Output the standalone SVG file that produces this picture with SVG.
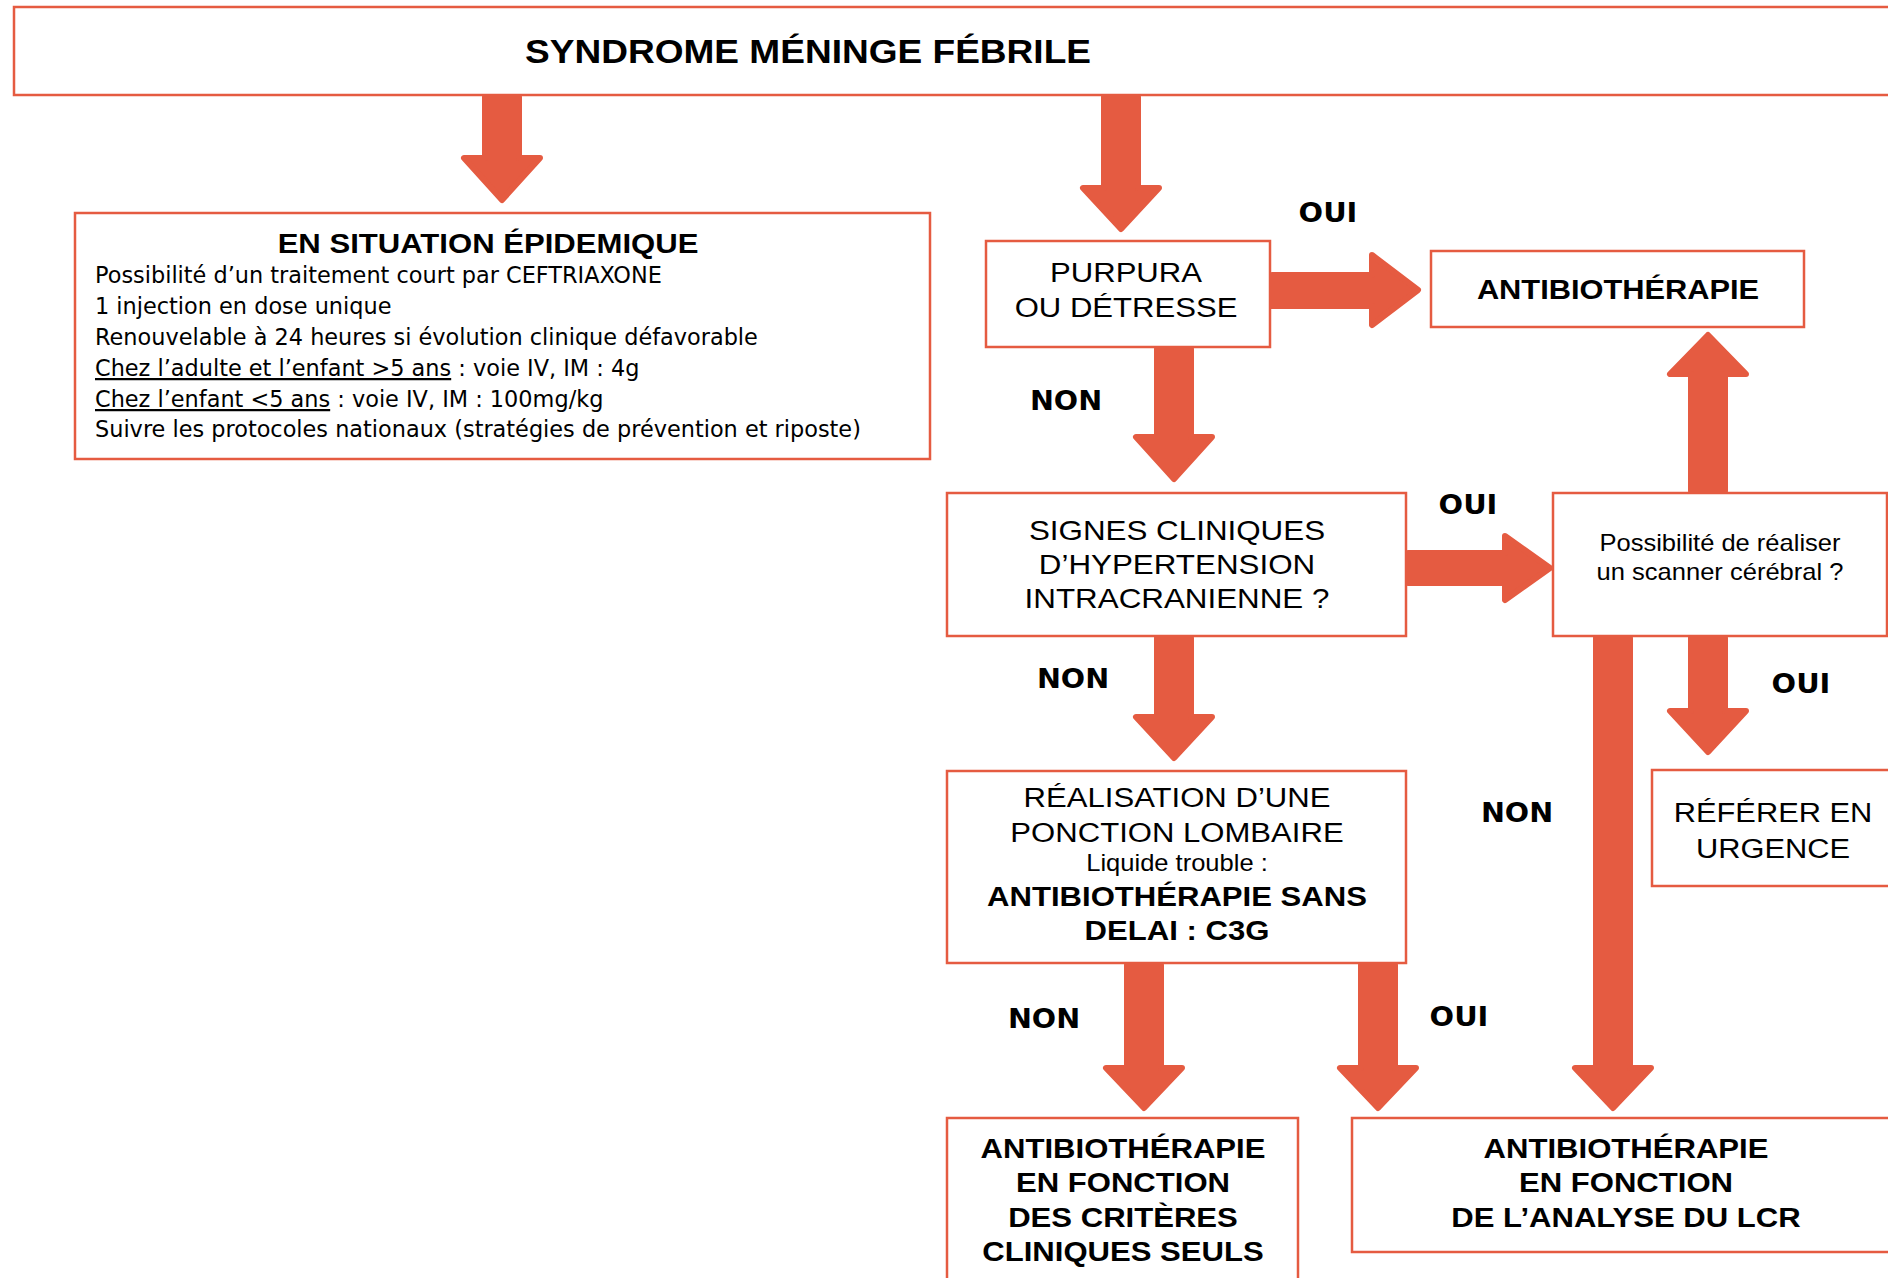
<svg xmlns="http://www.w3.org/2000/svg" width="1888" height="1278" viewBox="0 0 1888 1278">
<style>
.box{fill:#fff;stroke:#E55B41;stroke-width:2.5}
.arr{fill:#E55B41;stroke:#E55B41;stroke-width:6;stroke-linejoin:round}
.a{font-family:"Liberation Sans",Arial,sans-serif;fill:#000;text-anchor:middle;font-size:28px}
.b{font-weight:bold}
.v{font-family:"DejaVu Sans",Verdana,sans-serif;fill:#000;font-size:22.4px}
.lbl{font-family:"DejaVu Sans",Verdana,sans-serif;font-weight:bold;font-size:27px;text-anchor:middle;fill:#000}
.u{text-decoration:underline}
</style>
<rect width="1888" height="1278" fill="#fff"/>

<g id="n-title">
<rect class="box" x="14" y="7" width="1890" height="88"/>
<text class="a b" style="font-size:34px" transform="translate(808 0) scale(1.09 1)" x="0" y="63">SYNDROME MÉNINGE FÉBRILE</text>
</g>

<g id="n-epidemie">
<rect class="box" x="75" y="213" width="855" height="246"/>
<text class="a b" transform="translate(488 0) scale(1.11 1)" x="0" y="253">EN SITUATION ÉPIDEMIQUE</text>
<text class="v" x="95" y="283">Possibilité d’un traitement court par CEFTRIAXONE</text>
<text class="v" x="95" y="314">1 injection en dose unique</text>
<text class="v" x="95" y="345">Renouvelable à 24 heures si évolution clinique défavorable</text>
<text class="v" x="95" y="376"><tspan class="u">Chez l’adulte et l’enfant &gt;5 ans</tspan> : voie IV, IM : 4g</text>
<text class="v" x="95" y="407"><tspan class="u">Chez l’enfant &lt;5 ans</tspan> : voie IV, IM : 100mg/kg</text>
<text class="v" x="95" y="437">Suivre les protocoles nationaux (stratégies de prévention et riposte)</text>
</g>

<g id="n-purpura">
<rect class="box" x="986" y="241" width="284" height="106"/>
<text class="a" transform="translate(1126 0) scale(1.11 1)"><tspan x="0" y="282">PURPURA</tspan><tspan x="0" y="317">OU DÉTRESSE</tspan></text>
</g>

<g id="n-antibio">
<rect class="box" x="1431" y="251" width="373" height="76"/>
<text class="a b" transform="translate(1618 0) scale(1.1 1)" x="0" y="299">ANTIBIOTHÉRAPIE</text>
</g>

<g id="n-signes">
<rect class="box" x="947" y="493" width="459" height="143"/>
<text class="a" transform="translate(1177 0) scale(1.12 1)"><tspan x="0" y="540">SIGNES CLINIQUES</tspan><tspan x="0" y="574">D’HYPERTENSION</tspan><tspan x="0" y="608">INTRACRANIENNE ?</tspan></text>
</g>

<g id="n-scanner">
<rect class="box" x="1553" y="493" width="334" height="143"/>
<text class="a" style="font-size:23px" transform="translate(1720 0) scale(1.11 1)"><tspan x="0" y="551">Possibilité de réaliser</tspan><tspan x="0" y="580">un scanner cérébral ?</tspan></text>
</g>

<g id="n-ponction">
<rect class="box" x="947" y="771" width="459" height="192"/>
<text class="a" transform="translate(1177 0) scale(1.11 1)"><tspan x="0" y="807">RÉALISATION D’UNE</tspan><tspan x="0" y="842">PONCTION LOMBAIRE</tspan><tspan x="0" y="871" style="font-size:23px">Liquide trouble :</tspan><tspan x="0" y="906" class="b">ANTIBIOTHÉRAPIE SANS</tspan><tspan x="0" y="940" class="b">DELAI : C3G</tspan></text>
</g>

<g id="n-referer">
<rect class="box" x="1652" y="770" width="250" height="116"/>
<text class="a" transform="translate(1773 0) scale(1.1 1)"><tspan x="0" y="822">RÉFÉRER EN</tspan><tspan x="0" y="858">URGENCE</tspan></text>
</g>

<g id="n-cliniques">
<rect class="box" x="947" y="1118" width="351" height="200"/>
<text class="a b" transform="translate(1123 0) scale(1.11 1)"><tspan x="0" y="1158">ANTIBIOTHÉRAPIE</tspan><tspan x="0" y="1192">EN FONCTION</tspan><tspan x="0" y="1227">DES CRITÈRES</tspan><tspan x="0" y="1261">CLINIQUES SEULS</tspan></text>
</g>

<g id="n-lcr">
<rect class="box" x="1352" y="1118" width="560" height="134"/>
<text class="a b" transform="translate(1626 0) scale(1.11 1)"><tspan x="0" y="1158">ANTIBIOTHÉRAPIE</tspan><tspan x="0" y="1192">EN FONCTION</tspan><tspan x="0" y="1227">DE L’ANALYSE DU LCR</tspan></text>
</g>

<g id="connectors">
<path class="arr" d="M485,97 L519,97 L519,158 L540,158 L502,200 L464,158 L485,158 Z"/>
<path class="arr" d="M1104,97 L1138,97 L1138,188 L1159,188 L1121,229 L1083,188 L1104,188 Z"/>
<path class="arr" d="M1272,275 L1372,275 L1372,255 L1418,290 L1372,325 L1372,306 L1272,306 Z"/>
<path class="arr" d="M1157,349 L1191,349 L1191,437 L1212,437 L1174,479 L1136,437 L1157,437 Z"/>
<path class="arr" d="M1408,553 L1505,553 L1505,536 L1550,568 L1505,600 L1505,583 L1408,583 Z"/>
<path class="arr" d="M1691,491 L1725,491 L1725,374 L1746,374 L1708,335 L1670,374 L1691,374 Z"/>
<path class="arr" d="M1157,638 L1191,638 L1191,717 L1212,717 L1174,758 L1136,717 L1157,717 Z"/>
<path class="arr" d="M1691,638 L1725,638 L1725,711 L1746,711 L1708,752 L1670,711 L1691,711 Z"/>
<path class="arr" d="M1596,638 L1630,638 L1630,1068 L1651,1068 L1613,1108 L1575,1068 L1596,1068 Z"/>
<path class="arr" d="M1127,965 L1161,965 L1161,1068 L1182,1068 L1144,1108 L1106,1068 L1127,1068 Z"/>
<path class="arr" d="M1361,965 L1395,965 L1395,1068 L1416,1068 L1378,1108 L1340,1068 L1361,1068 Z"/>
<text class="lbl" transform="translate(1328 222) scale(1.07 1)">OUI</text>
<text class="lbl" transform="translate(1066 410) scale(1.06 1)">NON</text>
<text class="lbl" transform="translate(1468 514) scale(1.07 1)">OUI</text>
<text class="lbl" transform="translate(1073 688) scale(1.06 1)">NON</text>
<text class="lbl" transform="translate(1801 693) scale(1.07 1)">OUI</text>
<text class="lbl" transform="translate(1517 822) scale(1.06 1)">NON</text>
<text class="lbl" transform="translate(1044 1028) scale(1.06 1)">NON</text>
<text class="lbl" transform="translate(1459 1026) scale(1.07 1)">OUI</text>
</g>
</svg>
